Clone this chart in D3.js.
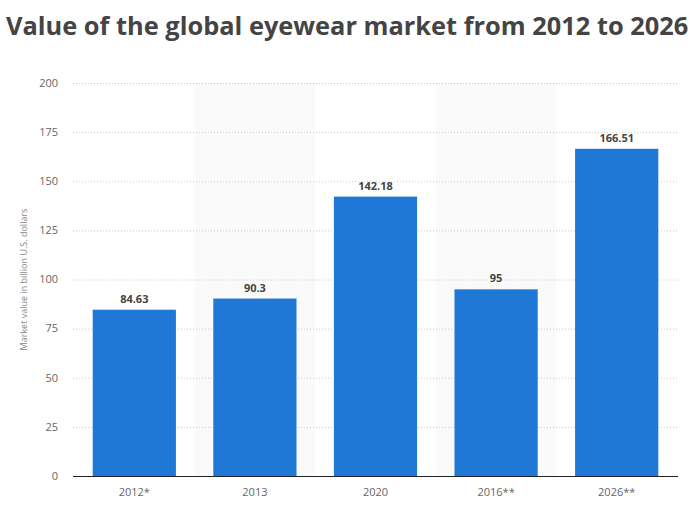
<!DOCTYPE html>
<html>
<head>
<meta charset="utf-8">
<script src="https://cdn.jsdelivr.net/npm/d3@7"></script>
<style>
  html, body { margin: 0; padding: 0; background: #fff; }
  svg { display: block; }
</style>
</head>
<body>
<div id="chart"></div>
<script>
// Chart data
const categories = ["2012*", "2013", "2020", "2016**", "2026**"];
const values = [84.63, 90.3, 142.18, 95, 166.51];
const valueLabels = ["84.63", "90.3", "142.18", "95", "166.51"];
const yTicks = [0, 25, 50, 75, 100, 125, 150, 175, 200];

const width = 698, height = 511;
const margin = { top: 83, right: 20, bottom: 35, left: 73 };
const font = "'Open Sans', 'DejaVu Sans', sans-serif";

const svg = d3.select("#chart").append("svg")
  .attr("width", width)
  .attr("height", height);

// Title
svg.append("text")
  .attr("x", 6)
  .attr("y", 35)
  .attr("font-family", font)
  .attr("font-size", 25.4)
  .attr("font-weight", 700)
  .attr("fill", "#444")
  .text("Value of the global eyewear market from 2012 to 2026");

const x = d3.scaleBand()
  .domain(categories)
  .range([74, 677])
  .paddingInner(0.31)
  .paddingOuter(0.155);

const y = d3.scaleLinear()
  .domain([0, 200])
  .range([height - margin.bottom, margin.top]);

// alternating band shading
const step = x.step();
svg.append("g").selectAll("rect")
  .data(categories.filter((d, i) => i % 2 === 1))
  .join("rect")
  .attr("x", d => x(d) + x.bandwidth() / 2 - step / 2)
  .attr("y", y(200))
  .attr("width", step)
  .attr("height", y(0) - y(200))
  .attr("fill", "#fafafa");

// gridlines
svg.append("g").selectAll("line")
  .data(yTicks.filter(t => t > 0))
  .join("line")
  .attr("x1", margin.left)
  .attr("x2", width - margin.right)
  .attr("y1", d => y(d) + 0.5)
  .attr("y2", d => y(d) + 0.5)
  .attr("stroke", "#c8c8c8")
  .attr("stroke-dasharray", "1,2");

// y tick labels
svg.append("g").selectAll("text")
  .data(yTicks)
  .join("text")
  .attr("x", 58)
  .attr("y", d => y(d))
  .attr("dy", "0.35em")
  .attr("text-anchor", "end")
  .attr("font-family", font)
  .attr("font-size", 11)
  .attr("fill", "#666")
  .text(d => d);

// y axis title
svg.append("text")
  .attr("transform", `translate(27,${(y(0) + y(200)) / 2}) rotate(-90)`)
  .attr("text-anchor", "middle")
  .attr("font-family", font)
  .attr("font-size", 9)
  .attr("fill", "#888")
  .text("Market value in billion U.S. dollars");

// bars
svg.append("g").selectAll("rect")
  .data(values)
  .join("rect")
  .attr("x", (d, i) => x(categories[i]))
  .attr("y", d => y(d))
  .attr("width", x.bandwidth())
  .attr("height", d => y(0) - y(d))
  .attr("fill", "#1f78d6");

// value labels
svg.append("g").selectAll("text")
  .data(values)
  .join("text")
  .attr("x", (d, i) => x(categories[i]) + x.bandwidth() / 2)
  .attr("y", d => y(d) - 7)
  .attr("text-anchor", "middle")
  .attr("font-family", font)
  .attr("font-size", 11)
  .attr("font-weight", 700)
  .attr("fill", "#444")
  .text((d, i) => valueLabels[i]);

// x axis line
svg.append("line")
  .attr("x1", margin.left)
  .attr("x2", width - margin.right)
  .attr("y1", y(0) + 0.5)
  .attr("y2", y(0) + 0.5)
  .attr("stroke", "#222")
  .attr("stroke-width", 1.2);

// x labels
svg.append("g").selectAll("text")
  .data(categories)
  .join("text")
  .attr("x", d => x(d) + x.bandwidth() / 2)
  .attr("y", y(0) + 20)
  .attr("text-anchor", "middle")
  .attr("font-family", font)
  .attr("font-size", 11)
  .attr("fill", "#666")
  .text(d => d);
</script>
</body>
</html>
